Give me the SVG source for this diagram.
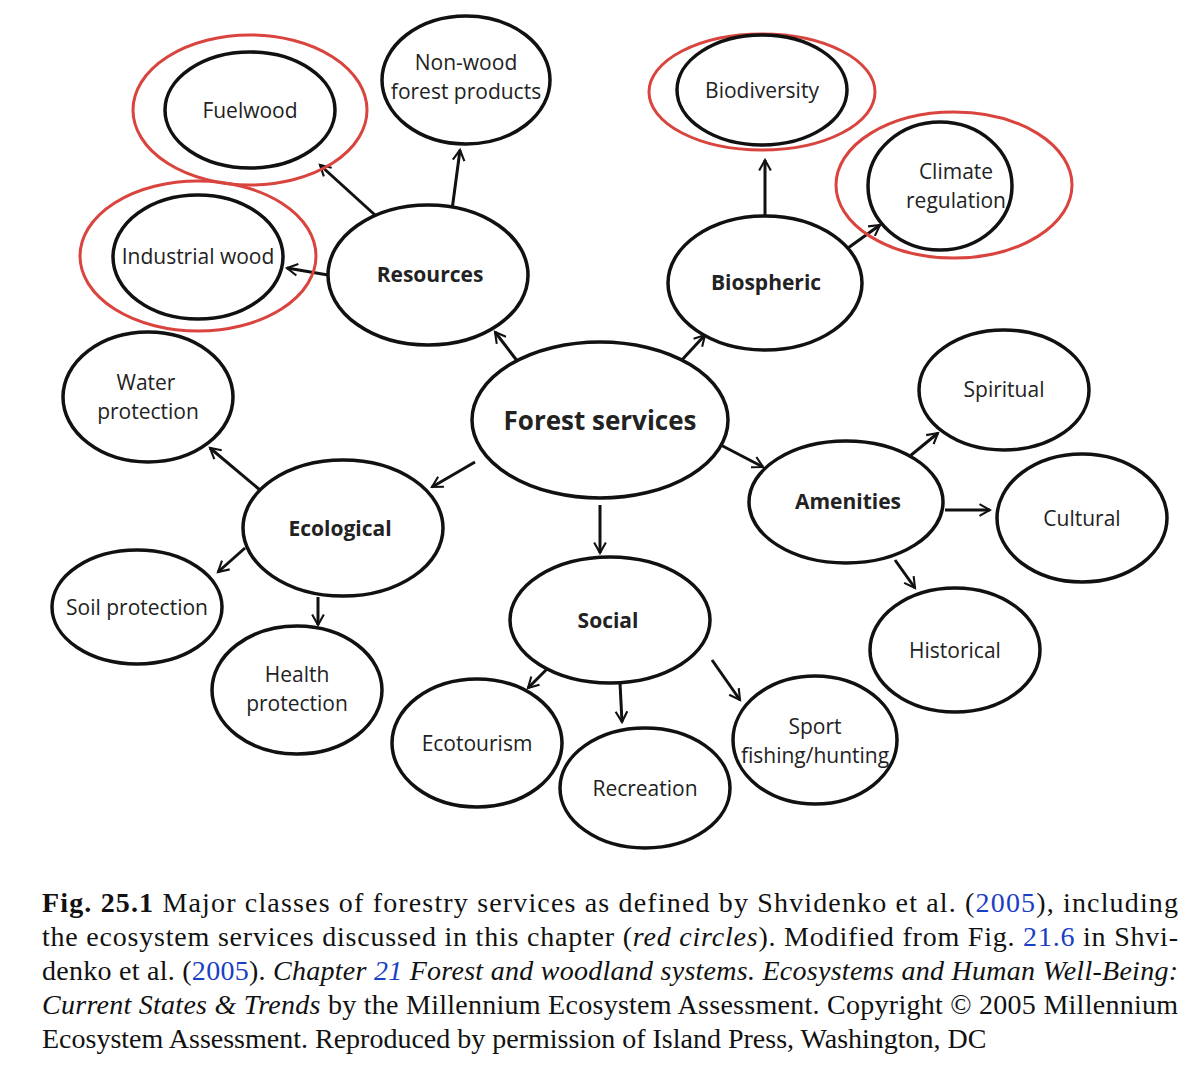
<svg xmlns="http://www.w3.org/2000/svg" width="1200" height="1090" viewBox="0 0 1200 1090">
<style>
.n{fill:#fff;stroke:#111;stroke-width:3.5}
.r{fill:none;stroke:#d9443f;stroke-width:3}
.t{font-family:"Open Sans","Liberation Sans",sans-serif;font-size:21px;fill:#222;text-anchor:middle}
.b{font-weight:bold;font-size:21px}
.c{stroke:#111;stroke-width:3;fill:none;marker-end:url(#a)}
.cap{font-family:"Liberation Serif",serif;font-size:28px;fill:#111}
.l{fill:#1a3fc4}
</style>
<defs><marker id="a" viewBox="0 0 12 12" refX="10" refY="6" markerWidth="14" markerHeight="14" orient="auto" markerUnits="userSpaceOnUse"><path d="M1 1L10 6L1 11" fill="none" stroke="#111" stroke-width="1.8"/></marker></defs>
<rect width="1200" height="1090" fill="#fff"/>
<g id="connectors">
<line class="c" x1="518" y1="362" x2="495" y2="332"/>
<line class="c" x1="680" y1="362" x2="705" y2="335"/>
<line class="c" x1="475" y1="462" x2="432" y2="487"/>
<line class="c" x1="600" y1="505" x2="600" y2="553"/>
<line class="c" x1="715" y1="442" x2="763" y2="467"/>
<line class="c" x1="375" y1="215" x2="320" y2="165"/>
<line class="c" x1="452" y1="210" x2="460" y2="150"/>
<line class="c" x1="328" y1="275" x2="287" y2="268"/>
<line class="c" x1="765" y1="216" x2="765" y2="160"/>
<line class="c" x1="848" y1="248" x2="880" y2="225"/>
<line class="c" x1="260" y1="490" x2="210" y2="448"/>
<line class="c" x1="245" y1="548" x2="218" y2="572"/>
<line class="c" x1="318" y1="597" x2="318" y2="625"/>
<line class="c" x1="548" y1="668" x2="528" y2="688"/>
<line class="c" x1="620" y1="683" x2="622" y2="722"/>
<line class="c" x1="712" y1="660" x2="740" y2="700"/>
<line class="c" x1="910" y1="456" x2="938" y2="433"/>
<line class="c" x1="945" y1="510" x2="990" y2="510"/>
<line class="c" x1="895" y1="560" x2="915" y2="588"/>
</g>
<g id="fuelwood"><ellipse class="r" cx="250" cy="110" rx="117" ry="75"/><ellipse class="n" cx="250" cy="110" rx="85" ry="58"/><text class="t" x="250" y="118">Fuelwood</text></g>
<g id="nonwood"><ellipse class="n" cx="466" cy="80" rx="84" ry="64"/><text class="t" x="466" y="70">Non-wood</text><text class="t" x="466" y="99">forest products</text></g>
<g id="industrial"><ellipse class="r" cx="198" cy="256" rx="118" ry="75"/><ellipse class="n" cx="198" cy="257" rx="85" ry="62"/><text class="t" x="198" y="264">Industrial wood</text></g>
<g id="biodiversity"><ellipse class="r" cx="762" cy="92" rx="113" ry="58"/><ellipse class="n" cx="762" cy="90" rx="85" ry="55"/><text class="t" x="762" y="98">Biodiversity</text></g>
<g id="climate"><ellipse class="r" cx="954" cy="185" rx="118" ry="73"/><ellipse class="n" cx="940" cy="186" rx="72" ry="64"/><text class="t" x="956" y="179">Climate</text><text class="t" x="956" y="208">regulation</text></g>
<g id="resources"><ellipse class="n" cx="428" cy="275" rx="100" ry="70"/><text class="t b" x="430" y="282">Resources</text></g>
<g id="biospheric"><ellipse class="n" cx="765" cy="283" rx="97" ry="67"/><text class="t b" x="766" y="290">Biospheric</text></g>
<g id="forest"><ellipse class="n" cx="600" cy="420" rx="128" ry="78"/><text class="t b" x="600" y="430" style="font-size:26px">Forest services</text></g>
<g id="water"><ellipse class="n" cx="148" cy="397" rx="85" ry="65"/><text class="t" x="146" y="390">Water</text><text class="t" x="148" y="419">protection</text></g>
<g id="ecological"><ellipse class="n" cx="343" cy="528" rx="100" ry="68"/><text class="t b" x="340" y="536">Ecological</text></g>
<g id="soil"><ellipse class="n" cx="137" cy="607" rx="85" ry="57"/><text class="t" x="137" y="615">Soil protection</text></g>
<g id="health"><ellipse class="n" cx="297" cy="690" rx="85" ry="64"/><text class="t" x="297" y="682">Health</text><text class="t" x="297" y="711">protection</text></g>
<g id="social"><ellipse class="n" cx="610" cy="620" rx="100" ry="63"/><text class="t b" x="608" y="628">Social</text></g>
<g id="amenities"><ellipse class="n" cx="846" cy="502" rx="97" ry="61"/><text class="t b" x="848" y="509">Amenities</text></g>
<g id="spiritual"><ellipse class="n" cx="1004" cy="390" rx="85" ry="60"/><text class="t" x="1004" y="397">Spiritual</text></g>
<g id="cultural"><ellipse class="n" cx="1082" cy="518" rx="85" ry="64"/><text class="t" x="1082" y="526">Cultural</text></g>
<g id="historical"><ellipse class="n" cx="955" cy="650" rx="85" ry="62"/><text class="t" x="955" y="658">Historical</text></g>
<g id="ecotourism"><ellipse class="n" cx="477" cy="743" rx="85" ry="64"/><text class="t" x="477" y="751">Ecotourism</text></g>
<g id="recreation"><ellipse class="n" cx="645" cy="788" rx="85" ry="60"/><text class="t" x="645" y="796">Recreation</text></g>
<g id="sport"><ellipse class="n" cx="815" cy="740" rx="82" ry="64"/><text class="t" x="815" y="734">Sport</text><text class="t" x="815" y="763">fishing/hunting</text></g>
<g id="caption">
<text class="cap" x="42" y="912" textLength="1136" lengthAdjust="spacing"><tspan font-weight="bold">Fig. 25.1</tspan>  Major classes of forestry services as defined by Shvidenko et al. (<tspan class="l">2005</tspan>), including</text>
<text class="cap" x="42" y="946" textLength="1136" lengthAdjust="spacing">the ecosystem services discussed in this chapter (<tspan font-style="italic">red circles</tspan>). Modified from Fig. <tspan class="l">21.6</tspan> in Shvi-</text>
<text class="cap" x="42" y="980" textLength="1136" lengthAdjust="spacing">denko et al. (<tspan class="l">2005</tspan>). <tspan font-style="italic">Chapter <tspan class="l">21</tspan> Forest and woodland systems. Ecosystems and Human Well-Being:</tspan></text>
<text class="cap" x="42" y="1014" textLength="1136" lengthAdjust="spacing"><tspan font-style="italic">Current States &amp; Trends</tspan> by the Millennium Ecosystem Assessment. Copyright © 2005 Millennium</text>
<text class="cap" x="42" y="1048">Ecosystem Assessment. Reproduced by permission of Island Press, Washington, DC</text>
</g>
</svg>
